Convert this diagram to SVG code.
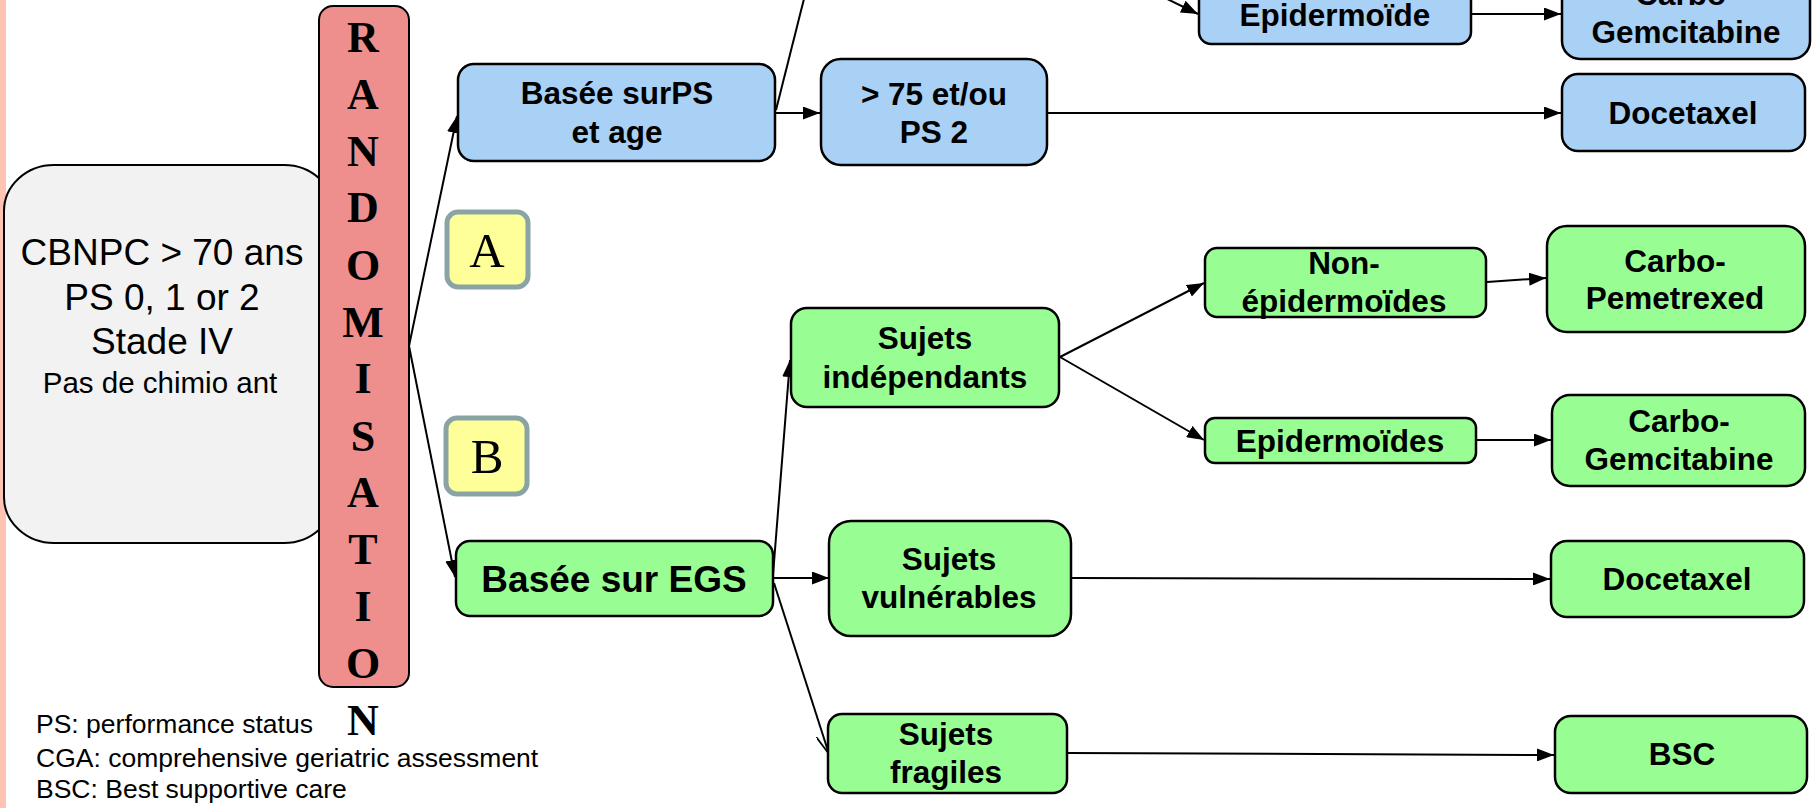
<svg xmlns="http://www.w3.org/2000/svg" width="1816" height="808" viewBox="0 0 1816 808">
<style>
.blue{fill:#a9d0f5;stroke:#000;stroke-width:2.5}
.green{fill:#98fe93;stroke:#000;stroke-width:2.5}
.t{font-family:"Liberation Sans",Arial,sans-serif;font-weight:bold;font-size:31.5px;fill:#000;text-anchor:middle}
.big{font-size:37px}
.r{font-family:"Liberation Sans",Arial,sans-serif;font-size:37px;fill:#000;text-anchor:middle}
.note{font-family:"Liberation Sans",Arial,sans-serif;font-size:26.5px;fill:#000}
.ser{font-family:"Liberation Serif","Times New Roman",serif;fill:#000;text-anchor:middle}
.rl{font-weight:bold;font-size:44px}
.ab{fill:#ffff99;stroke:#8aa4a6;stroke-width:5}
.c{fill:none;stroke:#000;stroke-width:2}
</style>
<defs>
<marker id="ah" viewBox="0 0 10 10" refX="10" refY="5" markerWidth="17" markerHeight="13" markerUnits="userSpaceOnUse" orient="auto" preserveAspectRatio="none"><path d="M0,0 L10,5 L0,10 z" fill="#000"/></marker>
<marker id="ao" viewBox="0 0 10 10" refX="10" refY="5" markerWidth="20" markerHeight="14" markerUnits="userSpaceOnUse" orient="auto" preserveAspectRatio="none"><path d="M0,0 L10,5 L0,10" fill="none" stroke="#000" stroke-width="1.2"/></marker>
</defs>
<rect x="0" y="0" width="1816" height="808" fill="#fff"/>
<rect x="0" y="0" width="6" height="808" fill="#ffc3b4"/>

<g id="connectors">
<line class="c" x1="409" y1="346" x2="457" y2="116" marker-end="url(#ah)"/>
<line class="c" x1="409" y1="346" x2="455" y2="577" marker-end="url(#ah)"/>
<line class="c" x1="776" y1="113" x2="820" y2="113" marker-end="url(#ah)"/>
<line class="c" x1="776" y1="110" x2="810" y2="-25"/>
<line class="c" x1="1120" y1="-24" x2="1198" y2="14" marker-end="url(#ah)"/>
<line class="c" x1="1472" y1="14" x2="1561" y2="14" marker-end="url(#ah)"/>
<line class="c" x1="1048" y1="113" x2="1561" y2="113" marker-end="url(#ah)"/>
<line class="c" x1="773" y1="575" x2="790" y2="360" marker-end="url(#ah)"/>
<line class="c" x1="774" y1="578" x2="829" y2="578" marker-end="url(#ah)"/>
<line class="c" x1="774" y1="583" x2="829" y2="754" marker-end="url(#ao)"/>
<line class="c" x1="1060" y1="357" x2="1204" y2="283" marker-end="url(#ah)"/>
<line class="c" x1="1060" y1="357" x2="1204" y2="440" marker-end="url(#ah)"/>
<line class="c" x1="1487" y1="282" x2="1546" y2="278" marker-end="url(#ah)"/>
<line class="c" x1="1477" y1="440" x2="1551" y2="440" marker-end="url(#ah)"/>
<line class="c" x1="1072" y1="578" x2="1550" y2="579" marker-end="url(#ah)"/>
<line class="c" x1="1068" y1="753" x2="1554" y2="755" marker-end="url(#ah)"/>
</g>

<g id="cbnpc">
<rect x="4" y="165" width="330" height="378" rx="50" ry="46" fill="#f2f2f2" stroke="#000" stroke-width="2"/>
<text class="r" x="162" y="265">CBNPC &gt; 70 ans</text>
<text class="r" x="162" y="310">PS 0, 1 or 2</text>
<text class="r" x="162" y="354">Stade IV</text>
<text class="r" x="160" y="393" style="font-size:29.5px">Pas de chimio ant</text>
</g>

<g id="randomisation">
<rect x="319" y="6" width="90" height="681" rx="14" fill="#ef8f8d" stroke="#000" stroke-width="2"/>
<text class="ser rl" x="363" y="52">R</text>
<text class="ser rl" x="363" y="109">A</text>
<text class="ser rl" x="363" y="166">N</text>
<text class="ser rl" x="363" y="222">D</text>
<text class="ser rl" x="363" y="280">O</text>
<text class="ser rl" x="363" y="337">M</text>
<text class="ser rl" x="363" y="393">I</text>
<text class="ser rl" x="363" y="451">S</text>
<text class="ser rl" x="363" y="507">A</text>
<text class="ser rl" x="363" y="564">T</text>
<text class="ser rl" x="363" y="621">I</text>
<text class="ser rl" x="363" y="678">O</text>
<text class="ser rl" x="363" y="735">N</text>
</g>

<g id="armA">
<rect class="ab" x="447" y="212" width="81" height="75" rx="11"/>
<text class="ser" x="487" y="267" style="font-size:49px">A</text>
</g>
<g id="armB">
<rect class="ab" x="446" y="418" width="81" height="76" rx="11"/>
<text class="ser" x="487" y="473" style="font-size:49px">B</text>
</g>

<g id="basee-ps">
<rect class="blue" x="458" y="64" width="317" height="97" rx="16"/>
<text class="t" x="617" y="104">Basée surPS</text>
<text class="t" x="617" y="143">et age</text>
</g>
<g id="sup75">
<rect class="blue" x="821" y="59" width="226" height="106" rx="20"/>
<text class="t" x="934" y="105">&gt; 75 et/ou</text>
<text class="t" x="934" y="143">PS 2</text>
</g>
<g id="epidermoide-blue">
<rect class="blue" x="1199" y="-18" width="272" height="62" rx="12"/>
<text class="t" x="1335" y="26">Epidermoïde</text>
</g>
<g id="carbo-gem-blue">
<rect class="blue" x="1562" y="-40" width="248" height="99" rx="18"/>
<text class="t" x="1686" y="5">Carbo-</text>
<text class="t" x="1686" y="43">Gemcitabine</text>
</g>
<g id="docetaxel-blue">
<rect class="blue" x="1562" y="74" width="243" height="77" rx="16"/>
<text class="t" x="1683" y="124">Docetaxel</text>
</g>

<g id="basee-egs">
<rect class="green" x="456" y="541" width="317" height="75" rx="14"/>
<text class="t big" x="614" y="592">Basée sur EGS</text>
</g>
<g id="independants">
<rect class="green" x="791" y="308" width="268" height="99" rx="16"/>
<text class="t" x="925" y="349">Sujets</text>
<text class="t" x="925" y="388">indépendants</text>
</g>
<g id="non-epidermoides">
<rect class="green" x="1205" y="248" width="281" height="69" rx="12"/>
<text class="t" x="1344" y="274">Non-</text>
<text class="t" x="1344" y="312">épidermoïdes</text>
</g>
<g id="carbo-pem">
<rect class="green" x="1547" y="226" width="258" height="106" rx="20"/>
<text class="t" x="1675" y="272">Carbo-</text>
<text class="t" x="1675" y="309">Pemetrexed</text>
</g>
<g id="epidermoides-green">
<rect class="green" x="1205" y="418" width="271" height="45" rx="10"/>
<text class="t" x="1340" y="452">Epidermoïdes</text>
</g>
<g id="carbo-gem-green">
<rect class="green" x="1552" y="395" width="253" height="91" rx="18"/>
<text class="t" x="1679" y="432">Carbo-</text>
<text class="t" x="1679" y="470">Gemcitabine</text>
</g>
<g id="vulnerables">
<rect class="green" x="829" y="521" width="242" height="115" rx="22"/>
<text class="t" x="949" y="570">Sujets</text>
<text class="t" x="949" y="608">vulnérables</text>
</g>
<g id="docetaxel-green">
<rect class="green" x="1551" y="541" width="253" height="76" rx="16"/>
<text class="t" x="1677" y="590">Docetaxel</text>
</g>
<g id="fragiles">
<rect class="green" x="828" y="714" width="239" height="79" rx="14"/>
<text class="t" x="946" y="745">Sujets</text>
<text class="t" x="946" y="783">fragiles</text>
</g>
<g id="bsc">
<rect class="green" x="1555" y="716" width="252" height="77" rx="16"/>
<text class="t" x="1682" y="765">BSC</text>
</g>

<g id="legend">
<text class="note" x="36" y="733">PS: performance status</text>
<text class="note" x="36" y="767">CGA: comprehensive geriatric assessment</text>
<text class="note" x="36" y="798">BSC: Best supportive care</text>
</g>
</svg>
